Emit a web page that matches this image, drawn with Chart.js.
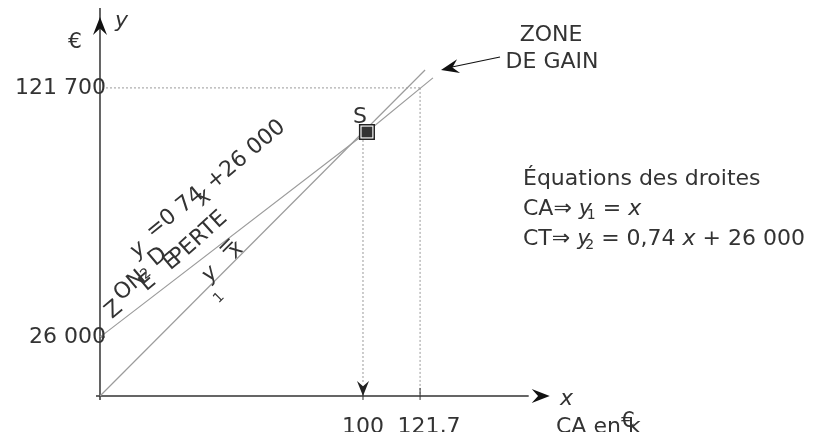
<!DOCTYPE html>
<html>
<head>
<meta charset="utf-8">
<script src="https://cdn.jsdelivr.net/npm/chart.js@4.4.1/dist/chart.umd.min.js"></script>
<style>
  html, body { margin: 0; padding: 0; background: #fff; }
  #wrap { width: 814px; height: 432px; }
</style>
</head>
<body>
<div id="wrap"><canvas id="chart" width="814" height="432"></canvas></div>
<script>
// Données (en k€)
const caX = [0, 123.6];
const caY = [0, 123.5];
const ctX = [0, 101.5, 126.6];
const ctY = [22.3, 100, 120.5];
const pointS = { x: 101.5, y: 100 };

// graduations
const xTickValues = [100, 121.7];
const xTickLabels = ['100', '121,7'];
const yTickValues = [22.35, 116.7];
const yTickLabels = ['26 000', '121 700'];

const INK = '#333';
const LINE = '#9c9c9c';
const FONT = '"DejaVu Sans", sans-serif';

function toPoints(xs, ys) {
    return xs.map((x, i) => ({ x: x, y: ys[i] }));
}

// flèche pleine (pointe concave)
function arrowHead(ctx, x, y, angle, len, half) {
    ctx.save();
    ctx.translate(x, y);
    ctx.rotate(angle);
    ctx.beginPath();
    ctx.moveTo(0, 0);
    ctx.lineTo(-len, -half);
    ctx.lineTo(-len * 0.65, 0);
    ctx.lineTo(-len, half);
    ctx.closePath();
    ctx.fill();
    ctx.restore();
}

function rotText(ctx, txt, x, y, deg, font) {
    ctx.save();
    ctx.translate(x, y);
    ctx.rotate(deg * Math.PI / 180);
    ctx.font = font;
    ctx.textAlign = 'center';
    ctx.textBaseline = 'middle';
    ctx.fillText(txt, 0, 0);
    ctx.restore();
}

// écrit des morceaux de texte à la suite
function chain(ctx, x, y, parts) {
    let cx = x;
    parts.forEach(p => {
        ctx.font = p.font;
        ctx.fillText(p.t, cx + (p.dx || 0), y + (p.dy || 0));
        cx += p.adv !== undefined ? p.adv : ctx.measureText(p.t).width;
    });
}

const decorPlugin = {
    id: 'decor',
    beforeDatasetsDraw(chart) {
        const ctx = chart.ctx;
        const sx = chart.scales.x, sy = chart.scales.y;
        const x0 = sx.getPixelForValue(0), y0 = sy.getPixelForValue(0);

        // lignes de rappel pointillées
        ctx.save();
        ctx.strokeStyle = '#999';
        ctx.lineWidth = 1;
        ctx.setLineDash([2, 2]);
        const gx = sx.getPixelForValue(xTickValues[1]);
        const gy = sy.getPixelForValue(yTickValues[1]);
        ctx.beginPath();
        ctx.moveTo(x0 + 6, gy); ctx.lineTo(gx, gy);
        ctx.moveTo(gx, gy); ctx.lineTo(gx, y0);
        const px = sx.getPixelForValue(xTickValues[0]);
        ctx.moveTo(px, sy.getPixelForValue(pointS.y)); ctx.lineTo(px, y0 - 12);
        ctx.stroke();
        ctx.restore();

        // axes
        ctx.save();
        ctx.strokeStyle = INK;
        ctx.fillStyle = '#111';
        ctx.lineWidth = 1.5;
        ctx.beginPath();
        ctx.moveTo(x0, y0 + 4); ctx.lineTo(x0, sy.getPixelForValue(147));
        ctx.moveTo(x0 - 4, y0); ctx.lineTo(sx.getPixelForValue(163), y0);
        ctx.stroke();
        arrowHead(ctx, x0, sy.getPixelForValue(143.6), -Math.PI / 2, 18, 7);
        arrowHead(ctx, sx.getPixelForValue(171), y0, 0, 18, 7);

        // graduations
        ctx.lineWidth = 1;
        ctx.beginPath();
        xTickValues.forEach(v => {
            const p = sx.getPixelForValue(v);
            ctx.moveTo(p, y0 - 8); ctx.lineTo(p, y0 + 4);
        });
        ctx.moveTo(x0, sy.getPixelForValue(yTickValues[0])); ctx.lineTo(x0 + 5, sy.getPixelForValue(yTickValues[0]));
        ctx.stroke();
        // flèche vers 100
        ctx.fillStyle = '#222';
        arrowHead(ctx, px, y0, Math.PI / 2, 15, 6);
        ctx.restore();
    },
    afterDatasetsDraw(chart) {
        const ctx = chart.ctx;
        const sx = chart.scales.x, sy = chart.scales.y;
        const x0 = sx.getPixelForValue(0), y0 = sy.getPixelForValue(0);
        const f = FONT;
        ctx.save();
        ctx.fillStyle = INK;

        // étiquettes des axes
        ctx.font = '22px ' + f;
        ctx.textAlign = 'right';
        ctx.textBaseline = 'middle';
        yTickValues.forEach((v, i) => ctx.fillText(yTickLabels[i], x0 + 6, sy.getPixelForValue(v)));
        ctx.textAlign = 'center';
        ctx.textBaseline = 'alphabetic';
        xTickValues.forEach((v, i) => ctx.fillText(xTickLabels[i], sx.getPixelForValue(v) + i * 9, y0 + 37));
        ctx.fillText('€', x0 - 25, 48);
        ctx.textAlign = 'left';
        ctx.font = 'italic 22px ' + f;
        ctx.fillText('y', x0 + 15, 27);
        ctx.fillText('x', 560, y0 + 9);
        ctx.font = '22px ' + f;
        ctx.fillText('CA en k', 556, y0 + 37);
        ctx.fillText('€', 621, y0 + 31);

        // point S
        ctx.textAlign = 'center';
        ctx.fillText('S', sx.getPixelForValue(pointS.x) - 7, sy.getPixelForValue(pointS.y) - 9);

        // zone de gain
        ctx.fillText('ZONE', 551, 41);
        ctx.fillText('DE GAIN', 552, 68);
        ctx.strokeStyle = '#111';
        ctx.lineWidth = 1.2;
        ctx.beginPath();
        ctx.moveTo(500, 57); ctx.lineTo(452, 67);
        ctx.stroke();
        ctx.fillStyle = '#111';
        arrowHead(ctx, 441, 70, Math.atan2(13, -59), 18, 7);

        // équations
        ctx.fillStyle = INK;
        ctx.textAlign = 'left';
        ctx.textBaseline = 'alphabetic';
        ctx.font = '22px ' + f;
        ctx.fillText('Équations des droites', 523, 185);
        chain(ctx, 523, 215, [
            { t: 'CA⇒ ', font: '22px ' + f },
            { t: 'y', font: 'italic 22px ' + f, adv: 8 },
            { t: '1', font: '14px ' + f, dy: 4 },
            { t: ' = ', font: '22px ' + f },
            { t: 'x', font: 'italic 22px ' + f }
        ]);
        chain(ctx, 523, 245, [
            { t: 'CT⇒ ', font: '22px ' + f },
            { t: 'y', font: 'italic 22px ' + f, adv: 8 },
            { t: '2', font: '14px ' + f, dy: 4 },
            { t: ' = 0,74 ', font: '22px ' + f },
            { t: 'x', font: 'italic 22px ' + f },
            { t: ' + 26 000', font: '22px ' + f }
        ]);

        // étiquettes obliques le long des droites
        const r = '22px ' + f, ri = 'italic 22px ' + f, rs = '14px ' + f;
        rotText(ctx, 'y', 138, 250, -40, ri);
        rotText(ctx, '2', 146, 274, -40, rs);
        rotText(ctx, '=0 74', 175, 213, -39, r);
        rotText(ctx, 'x', 204, 198, -40, ri);
        rotText(ctx, '+26 000', 246, 155, -40, r);
        rotText(ctx, 'Z', 114, 310, -40, r);
        rotText(ctx, 'ON', 130, 286, -40, r);
        rotText(ctx, 'E', 148, 283, -40, r);
        rotText(ctx, 'D', 158, 257, -40, r);
        rotText(ctx, 'E', 172, 262, -40, r);
        rotText(ctx, 'PERTE', 199, 238, -42, r);
        rotText(ctx, 'y', 210, 274, -45, ri);
        rotText(ctx, '1', 219, 298, -45, rs);
        rotText(ctx, '=', 227, 246, -45, r);
        rotText(ctx, 'x', 236, 250, -45, ri);
        ctx.restore();
    }
};

const chart = new Chart(document.getElementById('chart'), {
    type: 'scatter',
    data: {
        datasets: [
            {
                label: 'CA',
                data: toPoints(caX, caY),
                showLine: true,
                borderColor: LINE,
                borderWidth: 1.2,
                pointRadius: 0,
                order: 3
            },
            {
                label: 'CT',
                data: toPoints(ctX, ctY),
                showLine: true,
                borderColor: LINE,
                borderWidth: 1.2,
                pointRadius: 0,
                order: 3
            },
            {
                label: 'S cadre',
                data: [pointS],
                pointStyle: 'rect',
                pointRadius: 10.3,
                backgroundColor: '#fff',
                borderColor: '#222',
                borderWidth: 1.5,
                order: 2
            },
            {
                label: 'S',
                data: [pointS],
                pointStyle: 'rect',
                pointRadius: 7.6,
                backgroundColor: '#333',
                borderWidth: 0,
                order: 1
            }
        ]
    },
    options: {
        responsive: false,
        animation: false,
        layout: { padding: 0, autoPadding: false },
        plugins: {
            legend: { display: false },
            tooltip: { enabled: false }
        },
        scales: {
            x: { type: 'linear', display: false, min: -38.02, max: 271.48 },
            y: { type: 'linear', display: false, min: -13.64, max: 150 }
        }
    },
    plugins: [decorPlugin]
});
</script>
</body>
</html>
